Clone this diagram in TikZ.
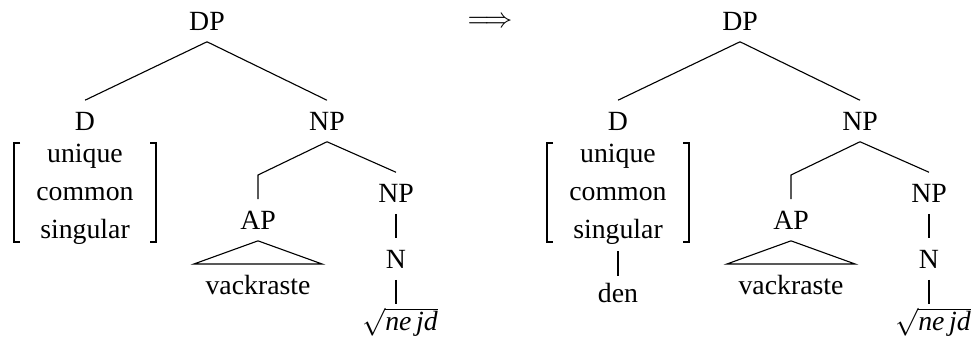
\documentclass[tikz,border=0pt]{standalone}
\usepackage{fontspec}
\setmainfont{Liberation Serif}

\newcommand{\featlist}{\renewcommand{\arraystretch}{1.14}\begin{tabular}{c}unique\\common\\singular\end{tabular}}

\begin{document}
\begin{tikzpicture}[x=0.36pt, y=-0.36pt,
        cat/.style={inner sep=4pt},
        feat/.style={inner sep=1.5pt},
        root/.style={inner sep=1pt},
        brk/.style={line width=0.65pt}]
    \useasboundingbox (0,0) rectangle (974,343);

    % left tree
    \node[cat] (DPa) at (207, 21) {DP};
    \node[cat] (Da) at (85, 121) {D};
    \node[feat] (Fa) at (85, 193) {\featlist};
    \node[cat] (NPa) at (327, 121) {NP};
    \node[cat] (APa) at (258, 220) {AP};
    \node[cat] (NPb) at (396, 193) {NP};
    \node[cat] (Na) at (396, 259) {N};
    \node[root] (Ra) at (400, 322) {$\sqrt{\textit{ne\,jd}}$};
    \node[cat, anchor=north] (Va) at (258, 264) {vackraste};
    \coordinate (bendA) at (258, 175);

    \draw[brk] ([shift={(-65,-50)}]Fa.center) -- ([shift={(-71,-50)}]Fa.center)
        -- ([shift={(-71,49)}]Fa.center) -- ([shift={(-65,49)}]Fa.center);
    \draw[brk] ([shift={(65,-50)}]Fa.center) -- ([shift={(71,-50)}]Fa.center)
        -- ([shift={(71,49)}]Fa.center) -- ([shift={(65,49)}]Fa.center);

    \draw (DPa.south) -- (Da.north);
    \draw (DPa.south) -- (NPa.north);
    \draw (NPa.south) -- (bendA) -- (APa.north);
    \draw (NPa.south) -- (NPb.north);
    \draw (NPb.south) -- (Na.north);
    \draw (Na.south) -- (Ra.north -| Na.south);
    \draw (APa.south) -- (Va.north west) -- (Va.north east) -- cycle;

    \node[cat] (arr) at (490, 22) {$\Longrightarrow$};

    % right tree
    \node[cat] (DPc) at (740, 21) {DP};
    \node[cat] (Db) at (618, 121) {D};
    \node[feat] (Fb) at (618, 193) {\featlist};
    \node[cat, inner sep=2.5pt] (den) at (618, 293) {den};
    \node[cat] (NPc) at (860, 121) {NP};
    \node[cat] (APb) at (791, 220) {AP};
    \node[cat] (NPd) at (929, 193) {NP};
    \node[cat] (Nb) at (929, 259) {N};
    \node[root] (Rb) at (933, 322) {$\sqrt{\textit{ne\,jd}}$};
    \node[cat, anchor=north] (Vb) at (791, 264) {vackraste};
    \coordinate (bendB) at (791, 175);
    \coordinate (Fbot) at ([shift={(0,58)}]Fb.center);

    \draw[brk] ([shift={(-65,-50)}]Fb.center) -- ([shift={(-71,-50)}]Fb.center)
        -- ([shift={(-71,49)}]Fb.center) -- ([shift={(-65,49)}]Fb.center);
    \draw[brk] ([shift={(65,-50)}]Fb.center) -- ([shift={(71,-50)}]Fb.center)
        -- ([shift={(71,49)}]Fb.center) -- ([shift={(65,49)}]Fb.center);

    \draw (DPc.south) -- (Db.north);
    \draw (DPc.south) -- (NPc.north);
    \draw (Fbot) -- (den.north);
    \draw (NPc.south) -- (bendB) -- (APb.north);
    \draw (NPc.south) -- (NPd.north);
    \draw (NPd.south) -- (Nb.north);
    \draw (Nb.south) -- (Rb.north -| Nb.south);
    \draw (APb.south) -- (Vb.north west) -- (Vb.north east) -- cycle;
\end{tikzpicture}
\end{document}
